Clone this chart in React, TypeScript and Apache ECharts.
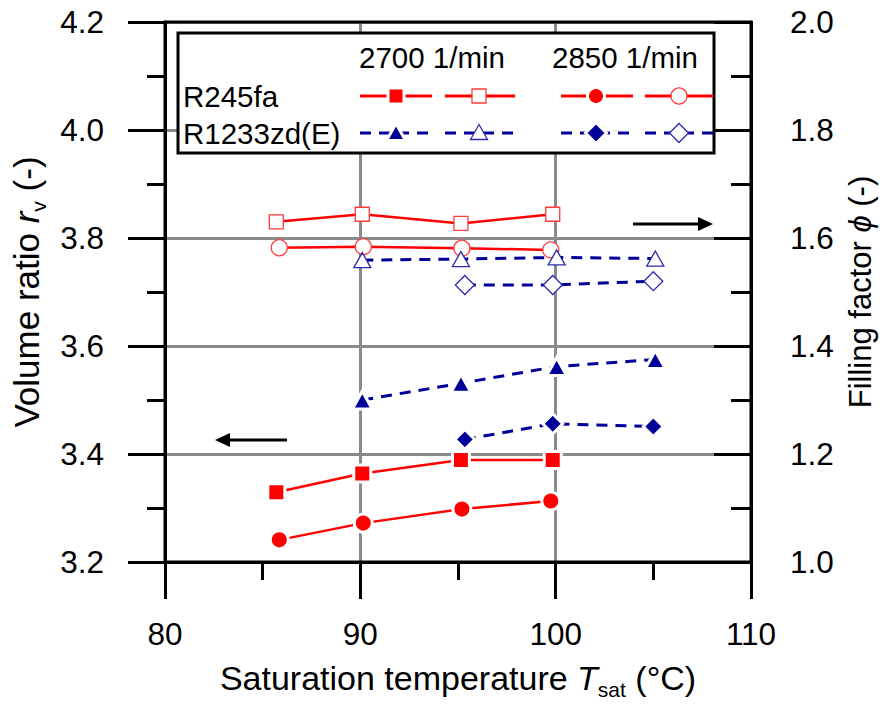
import React, { useEffect, useRef } from "react";
import * as echarts from "echarts";

const FONT = "'Liberation Sans', Arial, sans-serif";

// R245fa, 2700 1/min
const tR245_2700 = [85.7, 90.1, 95.15, 99.85];
const rvR245_2700 = [3.329, 3.364, 3.389, 3.389];
const phiR245_2700 = [1.63, 1.644, 1.627, 1.644];
// R245fa, 2850 1/min
const tR245_2850 = [85.85, 90.15, 95.2, 99.75];
const rvR245_2850 = [3.241, 3.272, 3.298, 3.313];
const phiR245_2850 = [1.582, 1.584, 1.581, 1.578];
// R1233zd(E), 2700 1/min
const tR1233_2700 = [90.1, 95.15, 100.05, 105.1];
const rvR1233_2700 = [3.5, 3.531, 3.562, 3.575];
const phiR1233_2700 = [1.559, 1.561, 1.564, 1.562];
// R1233zd(E), 2850 1/min
const tR1233_2850 = [95.35, 99.85, 105.0];
const rvR1233_2850 = [3.427, 3.456, 3.451];
const phiR1233_2850 = [1.513, 1.513, 1.52];

const xTicks = [80, 90, 100, 110];
const speedLabels = ["2700 1/min", "2850 1/min"];
const fluidLabels = ["R245fa", "R1233zd(E)"];

const RED = "#ff0000";
const RED_OPEN = "#ff3b3b";
const BLUE = "#000099";
const BLUE_OPEN = "#2b2bb0";

const zip = (xs: number[], ys: number[]) => xs.map((x, i) => [x, ys[i]]);

function lineSeries(
  name: string,
  xs: number[],
  ys: number[],
  yAxisIndex: number,
  color: string,
  dashed: boolean,
  symbol: string,
  size: number | number[],
  filled: boolean,
  openColor: string
) {
  return {
    name,
    type: "line",
    yAxisIndex,
    data: zip(xs, ys),
    symbol,
    symbolSize: size,
    showSymbol: true,
    lineStyle: {
      color,
      width: dashed ? 3 : 2.5,
      type: dashed ? [11, 8] : "solid",
    },
    itemStyle: filled
      ? { color, borderColor: "#ffffff", borderWidth: 3 }
      : { color: "#ffffff", borderColor: openColor, borderWidth: 1.3 },
    z: 3,
  };
}

function legendGraphics() {
  const g: any[] = [];
  g.push({
    type: "rect",
    shape: { x: 178, y: 33, width: 536, height: 120 },
    style: { fill: "#fff", stroke: "#000", lineWidth: 3 },
    z: 50,
  });
  const txt = (x: number, y: number, t: string, align: string) => ({
    type: "text",
    x,
    y,
    style: {
      text: t,
      fill: "#000",
      font: `29.5px ${FONT}`,
      textAlign: align,
      textVerticalAlign: "middle",
    },
    z: 52,
  });
  g.push(txt(432, 57, speedLabels[0], "center"));
  g.push(txt(625, 57, speedLabels[1], "center"));
  g.push(txt(183, 96, fluidLabels[0], "left"));
  g.push(txt(183, 133, fluidLabels[1], "left"));

  const segs = [
    [360, 432, 396],
    [445, 515, 479],
    [561, 633, 596],
    [645, 713, 679],
  ];
  const rows = [96, 133];
  rows.forEach((y, r) => {
    segs.forEach(([x1, x2, mx], k) => {
      const dashed = r === 1;
      g.push({
        type: "line",
        shape: { x1, y1: y, x2, y2: y },
        style: {
          stroke: dashed ? BLUE : RED,
          lineWidth: 3,
          lineDash: dashed ? [11, 8] : null,
        },
        z: 51,
      });
      const filled = k % 2 === 0;
      const fillC = filled ? (dashed ? BLUE : RED) : "#fff";
      const strokeC = filled ? "#fff" : dashed ? BLUE_OPEN : RED_OPEN;
      const lw = filled ? 3 : 1.3;
      if (!dashed) {
        if (k < 2) {
          const s = filled ? 16 : 14;
          g.push({
            type: "rect",
            shape: { x: mx - s / 2, y: y - s / 2, width: s, height: s },
            style: { fill: fillC, stroke: strokeC, lineWidth: lw },
            z: 53,
          });
        } else {
          g.push({
            type: "circle",
            shape: { cx: mx, cy: y, r: filled ? 8.5 : 8 },
            style: { fill: fillC, stroke: strokeC, lineWidth: lw },
            z: 53,
          });
        }
      } else {
        if (k < 2) {
          const w = filled ? 19 : 17;
          const h = filled ? 17 : 15;
          g.push({
            type: "polygon",
            shape: {
              points: [
                [mx, y - h / 2 - 1],
                [mx + w / 2, y + h / 2 - 1],
                [mx - w / 2, y + h / 2 - 1],
              ],
            },
            style: { fill: fillC, stroke: strokeC, lineWidth: lw },
            z: 53,
          });
        } else {
          const s = filled ? 10.5 : 9.5;
          g.push({
            type: "polygon",
            shape: {
              points: [
                [mx, y - s],
                [mx + s, y],
                [mx, y + s],
                [mx - s, y],
              ],
            },
            style: { fill: fillC, stroke: strokeC, lineWidth: lw },
            z: 53,
          });
        }
      }
    });
  });

  // arrows
  g.push({
    type: "line",
    shape: { x1: 633, y1: 224, x2: 702, y2: 224 },
    style: { stroke: "#000", lineWidth: 3 },
    z: 40,
  });
  g.push({
    type: "polygon",
    shape: { points: [[713, 224], [698, 217], [698, 231]] },
    style: { fill: "#000" },
    z: 40,
  });
  g.push({
    type: "line",
    shape: { x1: 287, y1: 440, x2: 226, y2: 440 },
    style: { stroke: "#000", lineWidth: 3 },
    z: 40,
  });
  g.push({
    type: "polygon",
    shape: { points: [[215, 440], [230, 433], [230, 447]] },
    style: { fill: "#000" },
    z: 40,
  });
  return g;
}

const axisFont = { fontSize: 31.5, color: "#000", fontFamily: FONT };

function richFor(size: number, sub: number) {
  return {
    a: { fontSize: size, color: "#000", fontFamily: FONT },
    i: { fontSize: size, color: "#000", fontFamily: FONT, fontStyle: "italic" },
    s: { fontSize: sub, color: "#000", fontFamily: FONT, padding: [24, 0, 0, 0] },
  };
}

export default function App() {
  const ref = useRef<HTMLDivElement>(null);
  useEffect(() => {
    if (!ref.current) return;
    const chart = echarts.init(ref.current, undefined, { renderer: "svg" });
    const tickStyle = { color: "#000", width: 3 };
    const option: any = {
      animation: false,
      backgroundColor: "#fff",
      grid: {
        left: 165,
        right: 134,
        top: 22,
        bottom: 145,
        containLabel: false,
        outerBoundsMode: "none",
        show: true,
        borderColor: "#000",
        borderWidth: 3,
        backgroundColor: "transparent",
        z: 10,
      },
      xAxis: {
        type: "value",
        min: xTicks[0],
        max: xTicks[xTicks.length - 1],
        interval: 10,
        axisLine: { show: true, lineStyle: tickStyle },
        axisTick: { show: true, length: 37, lineStyle: tickStyle },
        minorTick: { show: true, splitNumber: 2, length: 18, lineStyle: tickStyle },
        splitLine: { show: true, lineStyle: { color: "#8a8a8a", width: 3 } },
        axisLabel: { ...axisFont, margin: 56 },
        name: "{a|Saturation temperature }{i|T}{s|sat}{a| (°C)}",
        nameLocation: "middle",
        nameGap: 93,
        nameTextStyle: { fontSize: 34, fontFamily: FONT, color: "#000", rich: richFor(34, 21) },
      },
      yAxis: [
        {
          type: "value",
          position: "left",
          min: 3.2,
          max: 4.2,
          interval: 0.2,
          axisLine: { show: true, lineStyle: tickStyle },
          axisTick: { show: true, length: 37, lineStyle: tickStyle },
          minorTick: { show: true, splitNumber: 2, length: 18, lineStyle: tickStyle },
          splitLine: { show: true, lineStyle: { color: "#8a8a8a", width: 3 } },
          axisLabel: {
            ...axisFont,
            margin: 61,
            formatter: (v: number) => v.toFixed(1),
          },
          name: "{a|Volume ratio }{i|r}{s|v}{a| (-)}",
          nameLocation: "middle",
          nameRotate: 90,
          nameGap: 116,
          nameTextStyle: { fontSize: 35, fontFamily: FONT, color: "#000", rich: richFor(35, 21) },
        },
        {
          type: "value",
          position: "right",
          min: 1.0,
          max: 2.0,
          interval: 0.2,
          axisLine: { show: true, lineStyle: tickStyle },
          axisTick: { show: true, inside: true, length: 37, lineStyle: tickStyle },
          minorTick: { show: true, splitNumber: 2, length: 20, lineStyle: tickStyle },
          splitLine: { show: false },
          axisLabel: {
            ...axisFont,
            margin: 39,
            formatter: (v: number) => v.toFixed(1),
          },
          name: "{a|Filling factor }{i|ϕ}{a| (-)}",
          nameLocation: "middle",
          nameRotate: 90,
          nameGap: 92,
          nameTextStyle: { fontSize: 31, fontFamily: FONT, color: "#000", rich: richFor(31, 20) },
        },
      ],
      series: [
        lineSeries("R245fa 2700 rv", tR245_2700, rvR245_2700, 0, RED, false, "rect", 17, true, RED),
        lineSeries("R245fa 2850 rv", tR245_2850, rvR245_2850, 0, RED, false, "circle", 18, true, RED),
        lineSeries("R1233 2700 rv", tR1233_2700, rvR1233_2700, 0, BLUE, true, "triangle", [20, 18], true, BLUE),
        lineSeries("R1233 2850 rv", tR1233_2850, rvR1233_2850, 0, BLUE, true, "diamond", 20, true, BLUE),
        lineSeries("R245fa 2700 phi", tR245_2700, phiR245_2700, 1, RED, false, "rect", 14, false, RED_OPEN),
        lineSeries("R245fa 2850 phi", tR245_2850, phiR245_2850, 1, RED, false, "circle", 16, false, RED_OPEN),
        lineSeries("R1233 2700 phi", tR1233_2700, phiR1233_2700, 1, BLUE, true, "triangle", [17, 15], false, BLUE_OPEN),
        lineSeries("R1233 2850 phi", tR1233_2850, phiR1233_2850, 1, BLUE, true, "diamond", 19, false, BLUE_OPEN),
      ],
      graphic: legendGraphics(),
    };
    chart.setOption(option);
    return () => chart.dispose();
  }, []);
  return (
    <div
      ref={ref}
      style={{ position: "fixed", left: 0, top: 0, width: 885, height: 707, background: "#fff" }}
    />
  );
}
